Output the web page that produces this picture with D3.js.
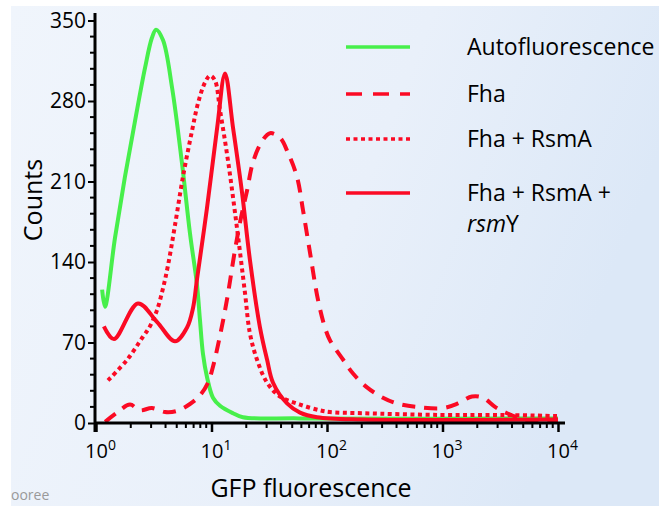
<!DOCTYPE html>
<html>
<head>
<meta charset="utf-8">
<script src="https://cdn.jsdelivr.net/npm/d3@7"></script>
<style>
  body { margin: 0; background: #fff; }
  svg { display: block; font-family: "Open Sans", sans-serif; }
</style>
</head>
<body>
<div id="chart"></div>
<script>
// GFP fluorescence values (x) and counts (y)
var autoX = [1.13, 1.196, 1.46, 1.78, 2.18, 2.66, 3.05, 3.31, 3.80, 4.55, 5.55, 6.51, 7.49, 7.94, 8.44, 9.14, 10.3, 11.85, 15.35, 18.7, 58, 10000];
var autoY = [116, 101, 161, 214, 263, 309, 335, 342, 333, 292, 226, 165, 120, 90, 60, 40, 22, 15, 8.5, 5, 4, 4];

var fhaX = [1.2, 1.52, 1.97, 2.40, 3.05, 3.96, 5.02, 6.51, 7.94, 9.33, 10.3, 11.85, 13.6, 15.7, 17.7, 20.3, 22.9, 27.4, 32.1, 39.2, 45.9, 55, 62, 71.3, 83.6, 96, 106, 138, 168, 222, 305, 404, 601, 1010, 1360, 1800, 2240, 2850, 3620, 4690, 6080, 7420, 10000];
var fhaY = [1, 9, 16, 11, 13, 9.5, 10.5, 16.5, 24, 35, 49, 76, 107, 146, 175, 202, 227, 245, 252, 248, 235, 214, 185, 148, 107, 83, 72, 55, 43, 31, 22, 17, 14, 13, 17, 23, 22, 14, 8.5, 4, 1, 2, 2.5];

var rsmAX = [1.27, 1.86, 2.55, 2.93, 3.37, 3.80, 4.20, 4.83, 5.66, 6.78, 7.64, 8.78, 9.7, 10.7, 11.85, 13.9, 16.6, 19.5, 21.5, 24.8, 30.3, 39.2, 58.4, 87, 106, 205, 951, 3340, 10000];
var rsmAY = [37, 55, 75, 84, 98, 117, 137, 172, 214, 254, 278, 296, 302, 298, 272, 228, 170, 113, 78, 55, 35, 23, 16, 11, 9.5, 8.5, 7, 7, 6];

var rsmYX = [1.17, 1.43, 2.31, 3.37, 4.83, 6.14, 6.92, 7.49, 9.14, 11.2, 13.1, 15.35, 18.4, 21.5, 26.3, 30.3, 34.1, 45.1, 58.4, 81.9, 200, 10000];
var rsmYY = [84, 73, 104, 88, 71, 83, 100, 125, 187, 257, 304, 257, 200, 142, 83, 55, 35, 17, 9, 5, 3, 3];

var yTicks = [0, 70, 140, 210, 280, 350];
var xTicks = [1, 10, 100, 1000, 10000];
var xTickExp = ["0", "1", "2", "3", "4"];

var seriesNames = ["Autofluorescence", "Fha", "Fha + RsmA", "Fha + RsmA +"];

function init(){
    var w = 659, h = 506;
    var green = "#47ef4b", red = "#fb0a24";

    var svg = d3.select("#chart").append("svg")
        .attr("width", w).attr("height", h);

    var defs = svg.append("defs");
    var grad = defs.append("linearGradient").attr("id", "bg")
        .attr("x1", "0").attr("y1", "0").attr("x2", "1").attr("y2", "0.3");
    grad.append("stop").attr("offset", "0").attr("stop-color", "#f0f5fc");
    grad.append("stop").attr("offset", "0.6").attr("stop-color", "#e9f0fa");
    grad.append("stop").attr("offset", "1").attr("stop-color", "#dce8f7");

    svg.append("rect").attr("x", 11).attr("y", 6)
        .attr("width", w - 11).attr("height", h - 6)
        .attr("fill", "url(#bg)");

    var xScale = d3.scaleLog().domain([1, 10000]).range([96, 558]);
    var yScale = d3.scaleLinear().domain([0, 350]).range([423, 20.5]);

    // curves
    var line = d3.line()
        .x(function(d){ return xScale(d[0]); })
        .y(function(d){ return yScale(d[1]); })
        .curve(d3.curveCatmullRom.alpha(0.5));

    function pairs(xs, ys){
        return xs.map(function(v, i){ return [v, ys[i]]; });
    }

    var series = [
        {data: pairs(autoX, autoY), color: green, dash: null},
        {data: pairs(rsmYX, rsmYY), color: red, dash: null},
        {data: pairs(rsmAX, rsmAY), color: red, dash: "4,3.5"},
        {data: pairs(fhaX, fhaY), color: red, dash: "13,9"}
    ];

    svg.selectAll("path.curve")
        .data(series)
        .enter()
        .append("path")
        .attr("class", "curve")
        .attr("d", function(d){ return line(d.data); })
        .attr("fill", "none")
        .attr("stroke", function(d){ return d.color; })
        .attr("stroke-width", 4)
        .attr("stroke-dasharray", function(d){ return d.dash; });

    // y axis
    var yAxis = d3.axisLeft(yScale).tickValues(yTicks).tickSize(7).tickPadding(2)
        .tickFormat(d3.format("d"));
    var gy = svg.append("g").attr("transform", "translate(95,0)").call(yAxis);
    gy.select(".domain").remove();
    gy.selectAll(".tick line").attr("stroke", "#000").attr("stroke-width", 2);
    gy.selectAll(".tick text").attr("font-size", 21).attr("font-family", "Open Sans").attr("fill", "#000");

    var yMinor = d3.range(0, 351, 14).filter(function(v){ return v % 70 !== 0; });
    svg.append("g").selectAll("line")
        .data(yMinor).enter().append("line")
        .attr("x1", 90).attr("x2", 95)
        .attr("y1", function(d){ return yScale(d); })
        .attr("y2", function(d){ return yScale(d); })
        .attr("stroke", "#000").attr("stroke-width", 2);

    svg.append("line").attr("x1", 95).attr("x2", 95).attr("y1", 13).attr("y2", 432)
        .attr("stroke", "#000").attr("stroke-width", 3);

    // x axis
    var xAxis = d3.axisBottom(xScale).tickValues(xTicks).tickSize(9).tickFormat("");
    var gx = svg.append("g").attr("transform", "translate(0,423)").call(xAxis);
    gx.select(".domain").remove();
    gx.selectAll(".tick line").attr("stroke", "#000").attr("stroke-width", 2.5);

    var xMinor = [];
    [1, 10, 100, 1000].forEach(function(b){
        for (var k = 2; k <= 9; k++) xMinor.push(b * k);
    });
    svg.append("g").selectAll("line")
        .data(xMinor).enter().append("line")
        .attr("x1", function(d){ return xScale(d); })
        .attr("x2", function(d){ return xScale(d); })
        .attr("y1", 423).attr("y2", 428)
        .attr("stroke", "#000").attr("stroke-width", 2);

    svg.append("line").attr("x1", 94).attr("x2", 565).attr("y1", 423).attr("y2", 423)
        .attr("stroke", "#000").attr("stroke-width", 3);

    var xl = svg.append("g").selectAll("text")
        .data(xTicks).enter().append("text")
        .attr("x", function(d){ return xScale(d) - 11; })
        .attr("y", 458)
        .attr("font-size", 20)
        .attr("fill", "#000");
    xl.append("tspan").text("10");
    xl.append("tspan").attr("dy", -8).attr("font-size", 14)
        .text(function(d, i){ return xTickExp[i]; });

    // axis titles
    svg.append("text").attr("x", 311).attr("y", 497)
        .attr("text-anchor", "middle").attr("font-size", 25).attr("fill", "#000")
        .text("GFP fluorescence");
    svg.append("text").attr("transform", "translate(42,200) rotate(-90)")
        .attr("text-anchor", "middle").attr("font-size", 25).attr("fill", "#000")
        .text("Counts");

    // legend
    var legY = [47, 94, 139, 193];
    var legDash = [null, "16,11", "4,3.5", null];
    var legColor = [green, red, red, red];
    var leg = svg.append("g");
    leg.selectAll("line")
        .data(seriesNames).enter().append("line")
        .attr("x1", 346).attr("x2", 410)
        .attr("y1", function(d, i){ return legY[i]; })
        .attr("y2", function(d, i){ return legY[i]; })
        .attr("stroke", function(d, i){ return legColor[i]; })
        .attr("stroke-width", 3.5)
        .attr("stroke-dasharray", function(d, i){ return legDash[i]; });
    leg.selectAll("text")
        .data(seriesNames).enter().append("text")
        .attr("x", 467)
        .attr("y", function(d, i){ return legY[i] + 8; })
        .attr("font-size", 23).attr("fill", "#000")
        .text(function(d){ return d; });
    var t = leg.append("text").attr("x", 467).attr("y", 232)
        .attr("font-size", 23).attr("fill", "#000");
    t.append("tspan").attr("font-style", "italic").text("rsm");
    t.append("tspan").text("Y");

    // watermark
    svg.append("text").attr("x", 11).attr("y", 500)
        .attr("font-size", 14).attr("fill", "#999").text("ooree");
}
window.onload = init;
</script>
</body>
</html>
